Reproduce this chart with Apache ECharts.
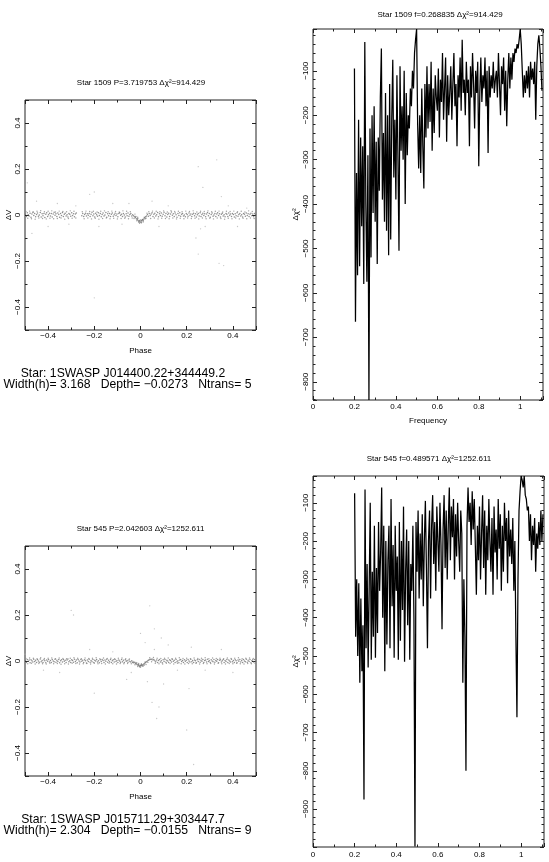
<!DOCTYPE html>
<html><head><meta charset="utf-8">
<script src="https://cdn.jsdelivr.net/npm/echarts/dist/echarts.min.js"></script>
<style>html,body{margin:0;padding:0;background:#fff}#c{width:549px;height:862px}</style>
</head><body><div id="c"></div>
<script>
// ---------------- DATA ----------------
const titles = [
  'Star 1509 P=3.719753 \u0394\u03c7\u00b2=914.429',
  'Star 1509 f=0.268835 \u0394\u03c7\u00b2=914.429',
  'Star 545 P=2.042603 \u0394\u03c7\u00b2=1252.611',
  'Star 545 f=0.489571 \u0394\u03c7\u00b2=1252.611'
];
const starLines = [
  'Star: 1SWASP J014400.22+344449.2',
  'Star: 1SWASP J015711.29+303447.7'
];
const infoLines = [
  'Width(h)= 3.168   Depth= \u22120.0273   Ntrans= 5',
  'Width(h)= 2.304   Depth= \u22120.0155   Ntrans= 9'
];

const lc1Band = [
[-0.498,0.003],[-0.494,-0.007],[-0.490,0.010],[-0.486,0.001],[-0.482,-0.004],[-0.478,0.008],[-0.474,-0.010],[-0.470,0.004],[-0.466,0.012],[-0.462,-0.002],
[-0.458,0.006],[-0.454,-0.008],[-0.450,0.002],[-0.446,0.009],[-0.442,-0.005],[-0.438,0.000],[-0.434,0.011],[-0.430,-0.009],[-0.426,0.005],[-0.422,-0.003],
[-0.418,0.007],[-0.414,-0.011],[-0.410,0.003],[-0.406,0.010],[-0.402,-0.006],[-0.398,0.001],[-0.394,0.008],[-0.390,-0.004],[-0.386,0.006],[-0.382,-0.009],
[-0.378,0.004],[-0.374,0.012],[-0.370,-0.001],[-0.366,0.005],[-0.362,-0.007],[-0.358,0.009],[-0.354,0.002],[-0.350,-0.010],[-0.346,0.006],[-0.342,-0.002],
[-0.338,0.011],[-0.334,-0.006],[-0.330,0.003],[-0.326,0.008],[-0.322,-0.004],[-0.318,0.001],[-0.314,-0.009],[-0.310,0.007],[-0.306,0.003],[-0.302,-0.005],
[-0.298,0.010],[-0.294,-0.002],[-0.290,0.005],[-0.286,-0.008],[-0.282,0.004],[-0.278,0.009],
[-0.254,-0.003],[-0.250,0.006],[-0.246,-0.006],[-0.242,0.002],[-0.238,0.008],[-0.234,-0.004],[-0.230,0.005],[-0.226,-0.001],[-0.222,0.007],[-0.218,-0.007],
[-0.214,0.003],[-0.210,0.012],[-0.206,-0.003],[-0.202,0.004],[-0.198,-0.009],[-0.194,0.008],[-0.190,0.001],[-0.186,-0.005],[-0.182,0.010],[-0.178,-0.002],
[-0.174,0.006],[-0.170,-0.008],[-0.166,0.002],[-0.162,0.009],[-0.158,-0.004],[-0.154,0.000],[-0.150,0.011],[-0.146,-0.010],[-0.142,0.005],[-0.138,-0.003],
[-0.134,0.007],[-0.130,-0.006],[-0.126,0.003],[-0.122,0.009],[-0.118,-0.005],[-0.114,0.001],[-0.110,0.008],[-0.106,-0.002],[-0.102,0.004],[-0.098,-0.008],
[-0.094,0.006],[-0.090,0.010],[-0.086,-0.001],[-0.082,0.003],[-0.078,-0.006],[-0.074,0.007],[-0.070,0.000],[-0.066,-0.009],[-0.062,0.005],[-0.058,-0.003],
[-0.054,0.009],[-0.050,-0.005],[-0.046,0.002],[-0.042,0.006],[-0.038,-0.004],[-0.034,0.001],[-0.030,-0.003],[-0.026,-0.008],[-0.022,-0.011],[-0.018,-0.016],
[-0.014,-0.020],[-0.010,-0.024],[-0.006,-0.028],[-0.002,-0.031],[0.002,-0.029],[0.006,-0.025],[0.010,-0.021],[0.014,-0.017],[0.018,-0.012],[0.022,-0.008],
[-0.012,-0.015],[-0.004,-0.024],[0.004,-0.034],[0.012,-0.025],[-0.008,-0.030],[0.008,-0.020],[-0.020,-0.007],[0.020,-0.016],
[0.026,-0.004],[0.030,0.002],[0.034,-0.005],[0.038,0.007],[0.042,-0.002],[0.046,0.004],[0.050,0.010],[0.054,-0.006],[0.058,0.003],[0.062,0.008],
[0.066,-0.004],[0.070,0.001],[0.074,0.011],[0.078,-0.008],[0.082,0.005],[0.086,-0.002],[0.090,0.009],[0.094,-0.005],[0.098,0.003],[0.102,0.012],
[0.106,-0.003],[0.110,0.006],[0.114,-0.009],[0.118,0.002],[0.122,0.008],[0.126,-0.006],[0.130,0.004],[0.134,0.013],[0.138,-0.001],[0.142,0.005],
[0.146,-0.007],[0.150,0.009],[0.154,0.001],[0.158,-0.010],[0.162,0.006],[0.166,-0.002],[0.170,0.010],[0.174,-0.005],[0.178,0.003],[0.182,0.007],
[0.186,-0.004],[0.190,0.000],[0.194,-0.008],[0.198,0.006],[0.202,0.002],[0.206,-0.005],[0.210,0.009],[0.214,-0.001],[0.218,0.004],[0.222,-0.007],
[0.226,0.003],[0.230,0.008],[0.234,-0.003],[0.238,0.005],[0.242,-0.009],[0.246,0.001],[0.250,0.007],[0.254,-0.004],[0.258,0.010],[0.262,-0.006],
[0.266,0.002],[0.270,0.008],[0.274,-0.002],[0.278,0.005],[0.282,-0.008],[0.286,0.004],[0.290,0.011],[0.294,-0.003],[0.298,0.006],[0.302,-0.010],
[0.306,0.002],[0.310,0.009],[0.314,-0.005],[0.318,0.000],[0.322,0.007],[0.326,-0.007],[0.330,0.004],[0.334,0.010],[0.338,-0.002],[0.342,0.005],
[0.346,-0.009],[0.350,0.003],[0.354,0.008],[0.358,-0.004],[0.362,0.001],[0.366,-0.008],[0.370,0.006],[0.374,0.003],[0.378,-0.006],[0.382,0.009],
[0.386,-0.001],[0.390,0.004],[0.394,-0.007],[0.398,0.007],[0.402,0.002],[0.406,-0.009],[0.410,0.005],[0.414,-0.003],[0.418,0.010],[0.422,-0.005],
[0.426,0.002],[0.430,0.007],[0.434,-0.004],[0.438,0.001],[0.442,-0.009],[0.446,0.006],[0.450,0.003],[0.454,-0.005],[0.458,0.009],[0.462,-0.002],
[0.466,0.005],[0.470,-0.007],[0.474,0.003],[0.478,0.008],[0.482,-0.003],[0.486,0.004],[0.490,-0.008],[0.494,0.006],[0.498,0.001]
];
const lc1BandWide = [
[-0.496,0.015],[-0.488,-0.014],[-0.480,0.017],[-0.472,-0.016],[-0.464,0.013],[-0.456,-0.018],[-0.448,0.016],[-0.440,-0.013],[-0.432,0.019],[-0.424,-0.015],
[-0.416,0.014],[-0.408,-0.017],[-0.400,0.016],[-0.392,-0.014],[-0.384,0.018],[-0.376,-0.016],[-0.368,0.013],[-0.360,-0.015],[-0.352,0.017],[-0.344,-0.013],
[-0.336,0.015],[-0.328,-0.018],[-0.320,0.014],[-0.312,-0.015],[-0.304,0.018],[-0.296,-0.014],[-0.288,0.016],[-0.280,-0.013],
[-0.252,0.014],[-0.244,-0.016],[-0.236,0.017],[-0.228,-0.013],[-0.220,0.015],[-0.212,-0.017],[-0.204,0.016],[-0.196,-0.014],[-0.188,0.013],[-0.180,-0.018],
[-0.172,0.016],[-0.164,-0.015],[-0.156,0.018],[-0.148,-0.013],[-0.140,0.014],[-0.132,-0.016],[-0.124,0.017],[-0.116,-0.014],[-0.108,0.015],[-0.100,-0.017],
[-0.092,0.013],[-0.084,-0.015],[-0.076,0.018],[-0.068,-0.014],[-0.060,0.016],[-0.052,-0.016],[-0.044,0.014],[-0.036,-0.013],
[-0.028,-0.015],[-0.024,0.004],[-0.016,-0.025],[-0.012,-0.010],[-0.004,-0.036],[0.000,-0.022],[0.004,-0.024],[0.012,-0.030],[0.016,-0.010],[0.024,-0.014],[0.028,0.008],
[0.036,0.014],[0.044,-0.015],[0.052,0.017],[0.060,-0.013],[0.068,0.016],[0.076,-0.017],[0.084,0.014],[0.092,-0.014],[0.100,0.018],[0.108,-0.015],
[0.116,0.013],[0.124,-0.016],[0.132,0.019],[0.140,-0.013],[0.148,0.015],[0.156,-0.017],[0.164,0.016],[0.172,-0.014],[0.180,0.014],[0.188,-0.016],
[0.196,0.017],[0.204,-0.013],[0.212,0.015],[0.220,-0.015],[0.228,0.018],[0.236,-0.014],[0.244,0.013],[0.252,-0.017],[0.260,0.016],[0.268,-0.013],
[0.276,0.015],[0.284,-0.016],[0.292,0.018],[0.300,-0.014],[0.308,0.014],[0.316,-0.017],[0.324,0.016],[0.332,-0.013],[0.340,0.017],[0.348,-0.015],
[0.356,0.013],[0.364,-0.018],[0.372,0.016],[0.380,-0.014],[0.388,0.015],[0.396,-0.016],[0.404,0.017],[0.412,-0.013],[0.420,0.014],[0.428,-0.017],
[0.436,0.016],[0.444,-0.014],[0.452,0.013],[0.460,-0.016],[0.468,0.018],[0.476,-0.013],[0.484,0.015],[0.492,-0.015],[0.499,0.012]
];
const lc1Outliers = [
[-0.49,0.14],[-0.47,-0.08],[-0.45,0.06],[-0.40,-0.05],[-0.36,0.05],[-0.31,-0.04],[-0.22,0.09],[-0.20,0.10],[-0.20,-0.36],[-0.18,-0.05],
[-0.12,0.05],[-0.08,-0.04],[0.05,0.06],[0.08,-0.05],[0.12,0.04],[0.24,-0.10],[0.25,0.21],[0.25,-0.17],[0.26,-0.06],[0.27,0.12],
[0.28,-0.05],[0.33,0.24],[0.34,-0.21],[0.35,0.08],[0.36,-0.22],[0.38,0.04],[0.42,-0.05],[0.46,0.03],[-0.28,0.04],[-0.05,0.05]
];

const lc2Band = [
[-0.498,0.002],[-0.494,-0.006],[-0.490,0.007],[-0.486,-0.001],[-0.482,0.004],[-0.478,-0.008],[-0.474,0.005],[-0.470,0.001],[-0.466,-0.004],[-0.462,0.008],
[-0.458,-0.002],[-0.454,0.003],[-0.450,-0.007],[-0.446,0.006],[-0.442,0.000],[-0.438,-0.005],[-0.434,0.009],[-0.430,-0.003],[-0.426,0.002],[-0.422,-0.006],
[-0.418,0.005],[-0.414,0.001],[-0.410,-0.008],[-0.406,0.004],[-0.402,-0.001],[-0.398,0.007],[-0.394,-0.004],[-0.390,0.002],[-0.386,-0.007],[-0.382,0.006],
[-0.378,0.000],[-0.374,-0.003],[-0.370,0.008],[-0.366,-0.005],[-0.362,0.003],[-0.358,-0.002],[-0.354,0.006],[-0.350,-0.008],[-0.346,0.001],[-0.342,0.005],
[-0.338,-0.004],[-0.334,0.007],[-0.330,-0.001],[-0.326,0.003],[-0.322,-0.006],[-0.318,0.004],[-0.314,0.009],[-0.310,-0.003],[-0.306,0.001],[-0.302,-0.007],
[-0.298,0.005],[-0.294,0.002],[-0.290,-0.005],[-0.286,0.008],[-0.282,-0.002],[-0.278,0.004],[-0.274,-0.008],[-0.270,0.006],[-0.266,0.000],[-0.262,-0.004],
[-0.258,0.007],[-0.254,-0.001],[-0.250,0.003],[-0.246,-0.006],[-0.242,0.005],[-0.238,0.001],[-0.234,-0.009],[-0.230,0.004],[-0.226,-0.002],[-0.222,0.008],
[-0.218,-0.005],[-0.214,0.002],[-0.210,-0.003],[-0.206,0.006],[-0.202,-0.007],[-0.198,0.003],[-0.194,0.000],[-0.190,0.007],[-0.186,-0.004],[-0.182,0.001],
[-0.178,-0.008],[-0.174,0.005],[-0.170,-0.002],[-0.166,0.006],[-0.162,0.002],[-0.158,-0.006],[-0.154,0.004],[-0.150,-0.001],[-0.146,0.008],[-0.142,-0.005],
[-0.138,0.003],[-0.134,-0.003],[-0.130,0.006],[-0.126,-0.007],[-0.122,0.001],[-0.118,0.005],[-0.114,-0.004],[-0.110,0.007],[-0.106,-0.002],[-0.102,0.002],
[-0.098,-0.006],[-0.094,0.004],[-0.090,0.000],[-0.086,-0.005],[-0.082,0.006],[-0.078,-0.003],[-0.074,0.003],[-0.070,-0.007],[-0.066,0.005],[-0.062,-0.001],
[-0.058,0.002],[-0.054,-0.005],[-0.050,0.004],[-0.046,-0.002],[-0.042,-0.004],[-0.038,0.001],[-0.034,-0.006],[-0.030,-0.008],[-0.026,-0.005],[-0.022,-0.011],
[-0.018,-0.013],[-0.014,-0.016],[-0.010,-0.018],[-0.006,-0.021],[-0.002,-0.022],[0.002,-0.021],[0.006,-0.019],[0.010,-0.016],[0.014,-0.013],[0.018,-0.010],
[-0.008,-0.015],[0.000,-0.018],[0.008,-0.022],[-0.016,-0.009],[0.016,-0.017],[-0.004,-0.025],[0.004,-0.016],
[0.022,-0.007],[0.026,-0.003],[0.030,0.000],[0.034,0.003],[0.038,0.005],[0.042,0.008],[0.046,0.006],[0.050,0.009],[0.054,0.004],[0.058,0.007],
[0.062,0.001],[0.066,-0.003],[0.070,0.004],[0.074,-0.006],[0.078,0.002],[0.082,0.007],[0.086,-0.004],[0.090,0.001],[0.094,-0.008],[0.098,0.005],
[0.102,-0.002],[0.106,0.006],[0.110,-0.005],[0.114,0.003],[0.118,0.000],[0.122,-0.007],[0.126,0.005],[0.130,0.002],[0.134,-0.004],[0.138,0.008],
[0.142,-0.001],[0.146,0.003],[0.150,-0.006],[0.154,0.006],[0.158,-0.003],[0.162,0.001],[0.166,-0.008],[0.170,0.004],[0.174,0.007],[0.178,-0.002],
[0.182,0.002],[0.186,-0.006],[0.190,0.005],[0.194,-0.001],[0.198,0.003],[0.202,-0.007],[0.206,0.006],[0.210,0.000],[0.214,-0.004],[0.218,0.008],
[0.222,-0.003],[0.226,0.002],[0.230,-0.006],[0.234,0.004],[0.238,0.001],[0.242,-0.008],[0.246,0.005],[0.250,-0.002],[0.254,0.007],[0.258,-0.005],
[0.262,0.003],[0.266,-0.001],[0.270,0.006],[0.274,-0.007],[0.278,0.002],[0.282,0.004],[0.286,-0.004],[0.290,0.008],[0.294,-0.002],[0.298,0.001],
[0.302,-0.006],[0.306,0.005],[0.310,0.000],[0.314,-0.003],[0.318,0.007],[0.322,-0.005],[0.326,0.002],[0.330,-0.001],[0.334,0.006],[0.338,-0.008],
[0.342,0.003],[0.346,0.005],[0.350,-0.004],[0.354,0.001],[0.358,0.007],[0.362,-0.006],[0.366,0.002],[0.370,-0.002],[0.374,0.006],[0.378,-0.007],
[0.382,0.004],[0.386,0.000],[0.390,-0.004],[0.394,0.008],[0.398,-0.003],[0.402,0.002],[0.406,-0.006],[0.410,0.005],[0.414,0.001],[0.418,-0.008],
[0.422,0.004],[0.426,-0.001],[0.430,0.007],[0.434,-0.004],[0.438,0.002],[0.442,-0.007],[0.446,0.006],[0.450,0.000],[0.454,-0.003],[0.458,0.008],
[0.462,-0.005],[0.466,0.003],[0.470,-0.002],[0.474,0.006],[0.478,-0.008],[0.482,0.001],[0.486,0.005],[0.490,-0.004],[0.494,0.007],[0.498,-0.001]
];
const lc2BandWide = [
[-0.496,0.011],[-0.488,-0.012],[-0.480,0.013],[-0.472,-0.010],[-0.464,0.012],[-0.456,-0.013],[-0.448,0.010],[-0.440,-0.011],[-0.432,0.014],[-0.424,-0.012],
[-0.416,0.011],[-0.408,-0.013],[-0.400,0.012],[-0.392,-0.010],[-0.384,0.013],[-0.376,-0.012],[-0.368,0.010],[-0.360,-0.011],[-0.352,0.013],[-0.344,-0.014],
[-0.336,0.011],[-0.328,-0.012],[-0.320,0.010],[-0.312,-0.013],[-0.304,0.012],[-0.296,-0.010],[-0.288,0.014],[-0.280,-0.011],[-0.272,0.012],[-0.264,-0.013],
[-0.256,0.010],[-0.248,-0.012],[-0.240,0.013],[-0.232,-0.011],[-0.224,0.011],[-0.216,-0.013],[-0.208,0.012],[-0.200,-0.010],[-0.192,0.014],[-0.184,-0.012],
[-0.176,0.010],[-0.168,-0.011],[-0.160,0.013],[-0.152,-0.013],[-0.144,0.011],[-0.136,-0.010],[-0.128,0.012],[-0.120,-0.012],[-0.112,0.010],[-0.104,-0.013],
[-0.096,0.012],[-0.088,-0.011],[-0.080,0.013],[-0.072,-0.012],[-0.064,0.010],[-0.056,-0.011],[-0.048,0.009],[-0.040,-0.012],
[-0.032,-0.002],[-0.024,-0.016],[-0.020,-0.006],[-0.012,-0.024],[-0.008,-0.011],[0.000,-0.027],[0.004,-0.012],[0.012,-0.022],[0.020,-0.004],[0.024,-0.015],[0.032,-0.006],
[0.040,0.014],[0.048,-0.003],[0.056,0.015],[0.064,-0.010],[0.072,0.012],[0.080,-0.012],[0.088,0.011],[0.096,-0.013],[0.104,0.012],[0.112,-0.010],
[0.120,0.013],[0.128,-0.011],[0.136,0.010],[0.144,-0.013],[0.152,0.012],[0.160,-0.010],[0.168,0.014],[0.176,-0.012],[0.184,0.011],[0.192,-0.013],
[0.200,0.012],[0.208,-0.011],[0.216,0.010],[0.224,-0.012],[0.232,0.013],[0.240,-0.010],[0.248,0.011],[0.256,-0.013],[0.264,0.012],[0.272,-0.011],
[0.280,0.014],[0.288,-0.012],[0.296,0.010],[0.304,-0.011],[0.312,0.013],[0.320,-0.013],[0.328,0.011],[0.336,-0.010],[0.344,0.012],[0.352,-0.012],
[0.360,0.010],[0.368,-0.013],[0.376,0.013],[0.384,-0.011],[0.392,0.011],[0.400,-0.012],[0.408,0.012],[0.416,-0.010],[0.424,0.014],[0.432,-0.012],
[0.440,0.010],[0.448,-0.013],[0.456,0.012],[0.464,-0.011],[0.472,0.013],[0.480,-0.012],[0.488,0.011],[0.496,-0.010]
];
const lc2Outliers = [
[-0.50,0.03],[-0.42,-0.04],[-0.30,0.22],[-0.29,0.20],[-0.22,0.05],[-0.20,-0.14],[-0.12,0.04],[-0.04,-0.05],[0.00,0.12],[0.02,0.08],
[0.03,-0.09],[0.04,0.24],[0.05,-0.18],[0.06,0.14],[0.07,-0.25],[0.08,-0.20],[0.09,0.10],[0.10,-0.10],[0.12,0.07],[0.16,-0.04],
[0.20,-0.30],[0.21,-0.12],[0.22,0.06],[0.23,-0.45],[0.28,-0.04],[0.35,0.05],[0.40,-0.05],[-0.35,-0.05],[0.06,0.05],[-0.06,-0.08]
];

const freq = [
0.200,0.205,0.210,0.215,0.220,0.225,0.230,0.235,0.240,0.245,
0.250,0.255,0.260,0.265,0.270,0.275,0.280,0.285,0.290,0.295,
0.300,0.305,0.310,0.315,0.320,0.325,0.330,0.335,0.340,0.345,
0.350,0.355,0.360,0.365,0.370,0.375,0.380,0.385,0.390,0.395,
0.400,0.405,0.410,0.415,0.420,0.425,0.430,0.435,0.440,0.445,
0.450,0.455,0.460,0.465,0.470,0.475,0.480,0.485,0.490,0.495,
0.500,0.505,0.510,0.515,0.520,0.525,0.530,0.535,0.540,0.545,
0.550,0.555,0.560,0.565,0.570,0.575,0.580,0.585,0.590,0.595,
0.600,0.605,0.610,0.615,0.620,0.625,0.630,0.635,0.640,0.645,
0.650,0.655,0.660,0.665,0.670,0.675,0.680,0.685,0.690,0.695,
0.700,0.705,0.710,0.715,0.720,0.725,0.730,0.735,0.740,0.745,
0.750,0.755,0.760,0.765,0.770,0.775,0.780,0.785,0.790,0.795,
0.800,0.805,0.810,0.815,0.820,0.825,0.830,0.835,0.840,0.845,
0.850,0.855,0.860,0.865,0.870,0.875,0.880,0.885,0.890,0.895,
0.900,0.905,0.910,0.915,0.920,0.925,0.930,0.935,0.940,0.945,
0.950,0.955,0.960,0.965,0.970,0.975,0.980,0.985,0.990,0.995,
1.000,1.005,1.010,1.015,1.020,1.025,1.030,1.035,1.040,1.045,
1.050,1.055,1.060,1.065,1.070,1.075,1.080,1.085,1.090,1.095,
1.100,1.105
];
const pg1 = [
-95,-665,-330,-560,-210,-540,-250,-450,-270,-580,
-35,-400,-575,-290,-841,-230,-520,-200,-420,-180,
-440,-260,-535,-250,-370,-160,-50,-390,-240,-440,
-150,-460,-200,-515,-130,-480,-210,-75,-340,-210,
-390,-110,-300,-505,-90,-280,-180,-300,-100,-400,
-150,-290,-200,-230,-140,-180,-100,-140,-60,-30,
-6,-220,-320,-200,-330,-140,-270,-365,-130,-250,
-90,-230,-130,-215,-80,-280,-140,-240,-110,-160,
-190,-95,-250,-120,-170,-60,-210,-140,-70,-260,
-110,-200,-150,-90,-210,-130,-60,-180,-130,-270,
-110,-160,-70,-190,-30,-150,-120,-200,-80,-150,
-120,-270,-90,-160,-60,-130,-230,-100,-150,-80,
-315,-150,-70,-170,-110,-140,-70,-180,-100,-285,
-90,-160,-110,-140,-80,-150,-120,-100,-160,-60,
-130,-200,-90,-130,-70,-190,-100,-225,-120,-60,
-140,-70,-120,-60,-80,-50,-60,-40,-50,-30,
-6,-40,-100,-160,-110,-150,-100,-140,-90,-160,
-80,-120,-95,-130,-80,-210,-90,-40,-20,-50,
-90,-145
];
const pg2 = [
-75,-450,-300,-500,-310,-570,-350,-540,-420,-875,
-65,-480,-260,-530,-320,-100,-510,-280,-450,-160,
-505,-270,-440,-150,-330,-230,-60,-400,-160,-540,
-200,-470,-250,-160,-480,-90,-370,-210,-505,-160,
-330,-240,-510,-150,-460,-200,-380,-110,-515,-280,
-170,-420,-200,-510,-260,-330,-160,-400,-998,-150,
-280,-120,-350,-180,-300,-130,-370,-200,-95,-270,
-480,-200,-120,-350,-160,-80,-260,-150,-330,-110,
-200,-280,-100,-210,-430,-170,-80,-270,-120,-300,
-160,-60,-250,-110,-190,-90,-300,-130,-240,-100,
-200,-280,-120,-180,-570,-300,-450,-800,-160,-60,
-150,-100,-210,-70,-170,-90,-210,-340,-160,-250,
-110,-300,-180,-80,-270,-120,-340,-160,-250,-90,
-200,-280,-140,-340,-110,-230,-170,-300,-90,-220,
-130,-330,-160,-280,-100,-200,-140,-310,-120,-240,
-170,-260,-140,-330,-200,-450,-660,-300,-120,-70,
-30,-40,-60,-30,-80,-90,-120,-110,-200,-130,
-250,-160,-210,-140,-280,-180,-220,-150,-210,-120,
-200,-130
];

// ---------------- CHART ----------------
const FONT = 'Liberation Sans, Arial, sans-serif';
const minus = v => (v < 0 ? '\u2212' + String(-v) : String(v));

const grids = [
  {left: 25, top: 100, width: 231, height: 230},
  {left: 313, top: 29, width: 230, height: 371},
  {left: 25, top: 546, width: 231, height: 230},
  {left: 313, top: 476, width: 231, height: 371}
].map(g => Object.assign({show: true, borderColor: '#222', borderWidth: 1, backgroundColor: 'transparent', outerBoundsMode: 'none', containLabel: false}, g));

const xAxes = [], yAxes = [];
function tickCfg(len) { return {show: true, inside: true, length: len, lineStyle: {color: '#222', width: 1}}; }
function addAxes(gi, xc, yc) {
  const lbl = {fontSize: 8, color: '#000', fontFamily: FONT, formatter: minus, showMaxLabel: false};
  ['bottom', 'top'].forEach((pos, k) => {
    xAxes.push({
      type: 'value', gridIndex: gi, position: pos, min: xc.min, max: xc.max,
      minInterval: xc.iv, maxInterval: xc.iv,
      axisLine: {show: false, onZero: false}, splitLine: {show: false},
      axisTick: tickCfg(4), minorTick: {show: true, splitNumber: xc.minor, length: 2.5, lineStyle: {color: '#222'}},
      axisLabel: k === 0 ? Object.assign({}, lbl, {margin: xc.margin, showMinLabel: xc.showMin}) : {show: false},
      name: k === 0 ? xc.name : '', nameLocation: 'middle', nameGap: 16.5,
      nameTextStyle: {fontSize: 8, color: '#000', fontFamily: FONT}
    });
  });
  ['left', 'right'].forEach((pos, k) => {
    yAxes.push({
      type: 'value', gridIndex: gi, position: pos, min: yc.min, max: yc.max,
      minInterval: yc.iv, maxInterval: yc.iv,
      axisLine: {show: false, onZero: false}, splitLine: {show: false},
      axisTick: tickCfg(4), minorTick: {show: true, splitNumber: yc.minor, length: 2.5, lineStyle: {color: '#222'}},
      axisLabel: k === 0 ? Object.assign({}, lbl, {rotate: 90, margin: 3, showMinLabel: false}) : {show: false},
      name: k === 0 ? yc.name : '', nameLocation: 'middle', nameGap: yc.gap, nameRotate: 90,
      nameTextStyle: {fontSize: 8, color: '#000', fontFamily: FONT}
    });
  });
}
addAxes(0, {min: -0.5, max: 0.5, iv: 0.2, minor: 2, margin: 2, name: 'Phase', showMin: false}, {min: -0.5, max: 0.5, iv: 0.2, minor: 2, name: '\u0394V', gap: 10.5});
addAxes(1, {min: 0, max: 1.11, iv: 0.2, minor: 2, margin: 3, name: 'Frequency', showMin: true}, {min: -841, max: -6, iv: 100, minor: 5, name: '\u0394\u03c7\u00b2', gap: 13.5});
addAxes(2, {min: -0.5, max: 0.5, iv: 0.2, minor: 2, margin: 2, name: 'Phase', showMin: false}, {min: -0.5, max: 0.5, iv: 0.2, minor: 2, name: '\u0394V', gap: 10.5});
addAxes(3, {min: 0, max: 1.11, iv: 0.2, minor: 2, margin: 4, name: '', showMin: true}, {min: -999, max: -30, iv: 100, minor: 5, name: '\u0394\u03c7\u00b2', gap: 13.5});

function scatter(ai, data, color, size) {
  return {type: 'scatter', xAxisIndex: ai * 2, yAxisIndex: ai * 2, data: data, symbol: 'circle', symbolSize: size,
    itemStyle: {color: color}, silent: true, animation: false};
}
function line(ai, vals) {
  return {type: 'line', xAxisIndex: ai * 2, yAxisIndex: ai * 2, data: freq.map((f, i) => [f, vals[i]]),
    symbol: 'none', lineStyle: {color: '#000', width: 1.25}, silent: true, animation: false};
}

const textEls = [];
function txt(x, y, s, size, align) {
  textEls.push({type: 'text', x: x, y: y, silent: true,
    style: {text: s, font: size + 'px ' + FONT, fill: '#000', textAlign: align, textVerticalAlign: 'middle'}});
}
txt(141, 83, titles[0], 8, 'center');
txt(440, 14.5, titles[1], 8, 'center');
txt(140.5, 529, titles[2], 8, 'center');
txt(429, 459, titles[3], 8, 'center');
txt(123, 374, starLines[0], 12.2, 'center');
txt(127.5, 385, infoLines[0], 12.2, 'center');
txt(123, 820, starLines[1], 12.2, 'center');
txt(127.5, 831, infoLines[1], 12.2, 'center');

const chart = echarts.init(document.getElementById('c'), null, {renderer: 'canvas'});
chart.setOption({
  backgroundColor: '#fff',
  animation: false,
  grid: grids,
  xAxis: xAxes,
  yAxis: yAxes,
  series: [
    scatter(0, lc1Outliers, '#b8b8b8', 1.3),
    scatter(0, lc1BandWide, '#8a8a8a', 1.4),
    scatter(0, lc1Band, '#707070', 1.5),
    line(1, pg1),
    scatter(2, lc2Outliers, '#b8b8b8', 1.3),
    scatter(2, lc2BandWide, '#8a8a8a', 1.4),
    scatter(2, lc2Band, '#707070', 1.5),
    line(3, pg2)
  ],
  graphic: textEls
});
</script></body></html>
